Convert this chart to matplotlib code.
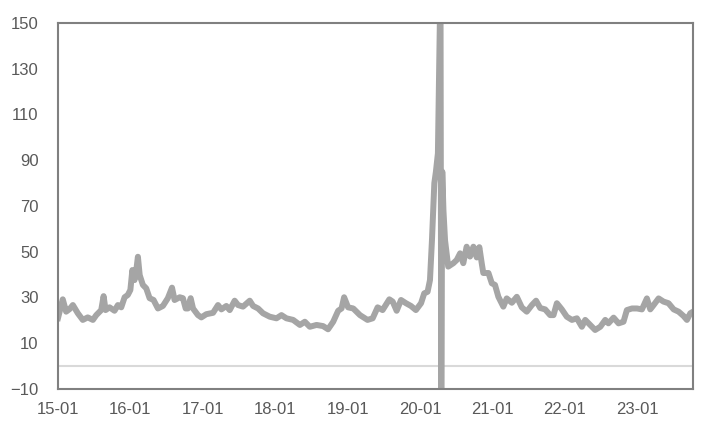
import matplotlib
matplotlib.use("Agg")
import matplotlib.pyplot as plt
import matplotlib.dates as mdates
import pandas as pd

plt.rcParams.update({
    "font.family": ["Liberation Sans", "DejaVu Sans"],
    "font.size": 12,
    "xtick.color": "#595959",
    "ytick.color": "#595959",
})

LINE = "#A5A5A5"
FRAME = "#808080"
ZERO = "#D9D9D9"

# ---- data ----
dates = [
    "2015-01-01", "2015-01-25", "2015-02-11", "2015-02-28", "2015-03-17", "2015-04-11",
    "2015-05-06", "2015-05-31", "2015-06-26", "2015-07-13", "2015-08-07", "2015-08-19",
    "2015-08-29", "2015-09-18", "2015-10-13", "2015-10-30", "2015-11-16", "2015-12-03",
    "2015-12-19", "2016-01-01", "2016-01-11", "2016-01-22", "2016-01-31", "2016-02-08",
    "2016-02-17", "2016-03-04", "2016-03-21", "2016-04-07", "2016-04-27", "2016-05-19",
    "2016-06-13", "2016-07-08", "2016-07-29", "2016-08-11", "2016-09-06", "2016-09-22",
    "2016-10-06", "2016-10-17", "2016-10-31", "2016-11-12", "2016-12-07", "2016-12-24",
    "2017-01-18", "2017-02-21", "2017-03-18", "2017-04-04", "2017-04-29", "2017-05-16",
    "2017-06-10", "2017-06-27", "2017-07-22", "2017-08-25", "2017-09-11", "2017-10-06",
    "2017-10-31", "2017-12-04", "2018-01-07", "2018-02-01", "2018-02-26", "2018-04-01",
    "2018-05-05", "2018-05-30", "2018-06-24", "2018-07-28", "2018-08-30", "2018-09-24",
    "2018-10-20", "2018-11-14", "2018-12-01", "2018-12-14", "2019-01-03", "2019-01-29",
    "2019-03-04", "2019-04-11", "2019-05-07", "2019-06-01", "2019-06-26", "2019-07-30",
    "2019-08-16", "2019-09-05", "2019-09-27", "2019-10-22", "2019-11-16", "2019-12-11",
    "2020-01-06", "2020-01-22", "2020-02-08", "2020-02-20", "2020-03-01", "2020-03-13",
    "2020-03-21", "2020-03-31", "2020-04-08", "2020-04-13", "2020-04-17", "2020-04-22",
    "2020-04-28", "2020-05-06", "2020-05-22", "2020-06-17", "2020-07-04", "2020-07-21",
    "2020-08-06", "2020-08-23", "2020-09-09", "2020-09-26", "2020-10-13", "2020-10-26",
    "2020-11-07", "2020-11-15", "2020-12-11", "2020-12-28", "2021-01-13", "2021-01-30",
    "2021-02-24", "2021-03-13", "2021-04-08", "2021-05-03", "2021-05-28", "2021-06-22",
    "2021-07-18", "2021-08-08", "2021-08-29", "2021-09-23", "2021-10-18", "2021-11-04",
    "2021-11-21", "2021-12-16", "2022-01-10", "2022-02-05", "2022-03-02", "2022-03-27",
    "2022-04-13", "2022-05-08", "2022-06-02", "2022-06-28", "2022-07-23", "2022-08-08",
    "2022-09-03", "2022-09-28", "2022-10-23", "2022-11-09", "2022-12-05", "2022-12-30",
    "2023-01-24", "2023-02-18", "2023-03-07", "2023-03-24", "2023-04-18", "2023-05-13",
    "2023-06-07", "2023-07-03", "2023-07-28", "2023-08-22", "2023-09-08", "2023-09-25",
    "2023-10-09",
]
values = [
    21.0, 29.2, 23.8, 24.9, 26.7, 23.1,
    20.2, 21.3, 20.2, 22.3, 24.5, 30.6,
    24.5, 25.7, 24.2, 26.7, 25.7, 30.1,
    31.1, 33.3, 42.0, 37.6, 42.0, 47.8,
    39.8, 35.5, 34.0, 29.7, 28.9, 25.2,
    26.3, 29.7, 34.3, 28.9, 30.1, 29.7,
    25.2, 25.2, 29.7, 25.2, 22.3, 21.3,
    22.7, 23.3, 26.7, 24.8, 26.3, 24.5,
    28.6, 26.7, 26.0, 28.6, 26.3, 25.2,
    23.1, 21.6, 20.9, 22.3, 20.9, 20.2,
    18.0, 19.4, 17.2, 18.0, 17.5, 16.1,
    19.4, 24.2, 25.2, 30.1, 25.7, 25.2,
    22.3, 20.2, 20.9, 25.7, 24.5, 29.2,
    28.2, 24.2, 28.9, 27.5, 26.3, 24.5,
    27.5, 31.8, 32.5, 37.6, 55.0, 80.0,
    85.0, 93.0, 138.0, 170.0, -20.0, 85.0,
    68.0, 55.0, 43.5, 45.0, 46.4, 49.3,
    45.0, 52.2, 47.9, 52.2, 47.5, 52.0,
    45.0, 40.7, 40.7, 36.2, 35.5, 30.3,
    26.0, 29.6, 27.7, 30.3, 25.7, 23.8,
    26.7, 28.6, 25.4, 24.8, 22.3, 22.3,
    27.5, 24.8, 21.6, 20.2, 20.9, 17.2,
    20.2, 18.0, 15.8, 17.2, 20.2, 18.7,
    21.2, 18.7, 19.4, 24.5, 25.2, 25.2,
    24.8, 29.6, 24.8, 26.7, 29.6, 28.2,
    27.5, 24.8, 23.8, 21.9, 20.2, 23.1,
    23.8,
]
y_ticks = [-10, 10, 30, 50, 70, 90, 110, 130, 150]

x = pd.to_datetime(dates)

fig = plt.figure(figsize=(7.16, 4.33), dpi=100)
ax = fig.add_axes([0.081, 0.1016, 0.887, 0.8454])

ax.axhline(0, color=ZERO, linewidth=1.5, zorder=1)
ax.plot(x, values, color=LINE, linewidth=4.3, solid_joinstyle="round", zorder=2)

ax.set_ylim(-10, 150)
ax.set_yticks(y_ticks)
ax.set_xlim(pd.Timestamp("2015-01-01"), pd.Timestamp("2023-10-09"))
ax.xaxis.set_major_locator(mdates.YearLocator(month=1, day=1))
ax.xaxis.set_major_formatter(mdates.DateFormatter("%y-%m"))

ax.tick_params(axis="both", length=0, labelsize=12)
ax.tick_params(axis="y", pad=14)
ax.tick_params(axis="x", pad=9)
for s in ax.spines.values():
    s.set_color(FRAME)
    s.set_linewidth(1.5)
    s.set_zorder(3)

plt.savefig("out.png", dpi=100)
plt.close()
